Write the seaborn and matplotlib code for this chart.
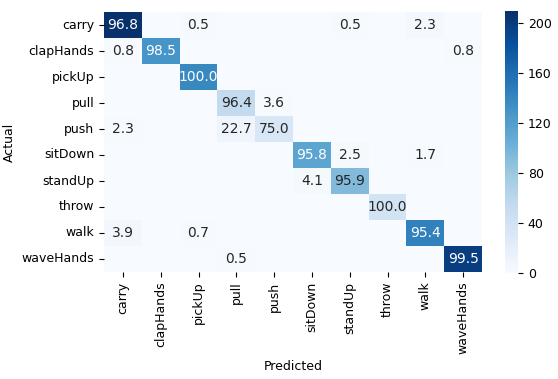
import numpy as np
import pandas as pd
import matplotlib
matplotlib.use('Agg')
import matplotlib.pyplot as plt
import seaborn as sns

# ==================== 数据 ====================
labels = ['carry', 'clapHands', 'pickUp', 'pull', 'push',
          'sitDown', 'standUp', 'throw', 'walk', 'waveHands']

# 混淆矩阵计数（行 = 真实类别，列 = 预测类别）
row_carry     = [210, 0, 1, 0, 0, 0, 1, 0, 5, 0]
row_clapHands = [1, 128, 0, 0, 0, 0, 0, 0, 0, 1]
row_pickUp    = [0, 0, 138, 0, 0, 0, 0, 0, 0, 0]
row_pull      = [0, 0, 0, 54, 2, 0, 0, 0, 0, 0]
row_push      = [1, 0, 0, 10, 33, 0, 0, 0, 0, 0]
row_sitDown   = [0, 0, 0, 0, 0, 114, 3, 0, 2, 0]
row_standUp   = [0, 0, 0, 0, 0, 4, 94, 0, 0, 0]
row_throw     = [0, 0, 0, 0, 0, 0, 0, 40, 0, 0]
row_walk      = [6, 0, 1, 0, 0, 0, 0, 0, 145, 0]
row_waveHands = [0, 0, 0, 1, 0, 0, 0, 0, 0, 199]

cm = np.array([row_carry, row_clapHands, row_pickUp, row_pull, row_push,
               row_sitDown, row_standUp, row_throw, row_walk, row_waveHands])

# 按行归一化的百分比作为标注，0 不显示
cm_pct = cm / cm.sum(axis=1, keepdims=True) * 100
annot = np.where(cm > 0, np.vectorize(lambda v: f'{v:.1f}')(cm_pct), '')

df = pd.DataFrame(cm, index=labels, columns=labels)

# ==================== 绘图 ====================
W, H = 558, 379
fig = plt.figure(figsize=(W / 100, H / 100), dpi=100)
ax = fig.add_axes([104 / W, 1 - 272 / H, 378 / W, 260 / H])
cax = fig.add_axes([505 / W, 1 - 273 / H, 13 / W, 262 / H])

sns.heatmap(df, annot=annot, fmt='', cmap='Blues', ax=ax, cbar_ax=cax,
            vmin=0, vmax=210, annot_kws={'fontsize': 10})

cax.set_yticks([0, 40, 80, 120, 160, 200])
cax.tick_params(labelsize=9)
for s in cax.spines.values():
    s.set_visible(False)

ax.set_xlabel('Predicted', fontsize=9)
ax.set_ylabel('Actual', fontsize=9)
ax.tick_params(labelsize=9)
plt.setp(ax.get_xticklabels(), rotation=90)
plt.setp(ax.get_yticklabels(), rotation=0)

plt.savefig('out.png', dpi=100)
plt.close()
